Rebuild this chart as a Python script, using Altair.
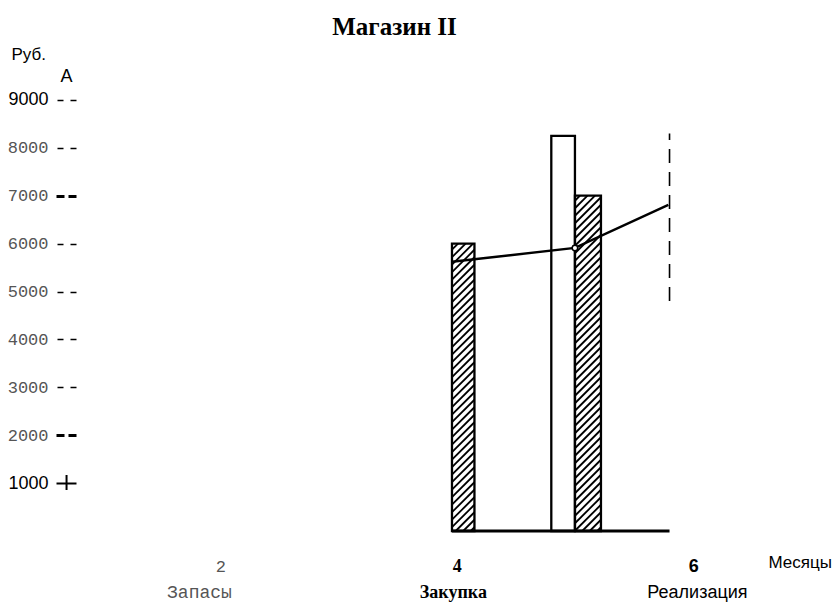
import altair as alt
import pandas as pd

# ---------------- data ----------------
title_text = "Магазин II"
y_unit = "Руб."
y_arrow = "A"
x_title = "Месяцы"

legend_labels = ["Запасы", "Закупка", "Реализация"]
legend_month = [1.824, 3.972, 6.036]

y_ticks = [1000, 2000, 3000, 4000, 5000, 6000, 7000, 8000, 9000]
y_tick_labels = ["1000", "2000", "3000", "4000", "5000", "6000", "7000", "8000", "9000"]
x_ticks = [2, 4, 6]
x_tick_labels = ["2", "4", "6"]

bar_start = [3.96, 4.80, 5.00]
bar_end = [4.15, 5.00, 5.22]
bar_value = [6000, 8250, 7000]
bar_hatched = [True, False, True]

line_month = [3.96, 5.00, 5.79]
line_value = [5620, 5910, 6810]
marker_index = [1]

edge_month = [5.80]
edge_low = [4800]
edge_high = [8300]

base_start = [3.96]
base_end = [5.80]

arrow_month = [0.70]
arrow_value = [9374]
cross_low = [856]
cross_high = [1169]

# ---------------- scales ----------------
X_DOMAIN = [0.78, 6.1]
Y_DOMAIN = [0, 10000]
W, H = 629, 479
PX_X = W / (X_DOMAIN[1] - X_DOMAIN[0])
PX_Y = H / (Y_DOMAIN[1] - Y_DOMAIN[0])

xs = alt.Scale(domain=X_DOMAIN, nice=False, zero=False)
ys = alt.Scale(domain=Y_DOMAIN, nice=False)


def label_expr(vals, labels):
    e = "''"
    for v, l in reversed(list(zip(vals, labels))):
        e = f"datum.value == {v} ? '{l}' : ({e})"
    return e


Y_SANS = "datum.value == 1000 || datum.value == 9000"
Y_BOLD = "datum.value == 7000 || datum.value == 2000"
Y_AXIS = alt.Axis(
    values=y_ticks,
    labelExpr=label_expr(y_ticks, y_tick_labels),
    title=y_unit,
    titleAngle=0,
    titleAlign="left",
    titleBaseline="alphabetic",
    titleX=-65,
    titleY=7,
    titleFont="Liberation Sans",
    titleFontSize=17,
    titleFontWeight="normal",
    titleColor="black",
    domain=False,
    grid=False,
    tickSize=20,
    tickColor="black",
    tickWidth={"condition": [{"test": Y_BOLD, "value": 3},
                             {"test": "datum.value == 1000", "value": 2}],
               "value": 1.6},
    tickDash={"condition": [{"test": "datum.value == 1000", "value": [20, 0]},
                            {"test": Y_BOLD, "value": [8, 4]}],
              "value": [6, 7]},
    labelPadding=8,
    labelFont={"condition": {"test": Y_SANS, "value": "Liberation Sans"}, "value": "Liberation Mono"},
    labelFontSize={"condition": {"test": Y_SANS, "value": 18}, "value": 17},
    labelColor={"condition": {"test": Y_SANS, "value": "black"}, "value": "#555555"},
)

X_AXIS = alt.Axis(
    values=x_ticks,
    labelExpr=label_expr(x_ticks, x_tick_labels),
    title=x_title,
    titleX=692,
    titleY=36,
    titleAlign="left",
    titleBaseline="alphabetic",
    titleFont="Liberation Sans",
    titleFontSize=17,
    titleFontWeight="normal",
    titleColor="black",
    domain=False,
    grid=False,
    ticks=False,
    tickSize=0,
    labelPadding=40,
    labelBaseline="alphabetic",
    labelFlush=False,
    labelOverlap=False,
    labelFont={"condition": [{"test": "datum.value == 2", "value": "Liberation Mono"},
                             {"test": "datum.value == 4", "value": "Liberation Serif"}],
               "value": "Liberation Sans"},
    labelFontWeight={"condition": {"test": "datum.value == 2", "value": "normal"}, "value": "bold"},
    labelFontSize={"condition": {"test": "datum.value == 2", "value": 17}, "value": 18},
    labelColor={"condition": {"test": "datum.value == 2", "value": "#555555"}, "value": "black"},
)


def X(f="x"):
    return alt.X(f"{f}:Q", scale=xs, axis=X_AXIS)


def Y(f="y"):
    return alt.Y(f"{f}:Q", scale=ys, axis=Y_AXIS)


# ---------------- derived tables ----------------
bars = pd.DataFrame({"x": bar_start, "x2": bar_end, "y": [0] * len(bar_value),
                     "y2": bar_value, "hatched": bar_hatched})

# diagonal hatch segments clipped to each hatched bar
SPACING = 7.5
segs = []
for x0, x1, top, h in zip(bar_start, bar_end, bar_value, bar_hatched):
    if not h:
        continue
    w = (x1 - x0) * PX_X
    hh = top * PX_Y
    c = -w + SPACING / 2
    while c < hh:
        sx, sy = 0.0, c
        if sy < 0:
            sx, sy = -c, 0.0
        ex, ey = w, c + w
        if ey > hh:
            ex, ey = hh - c, hh
        if ex > sx:
            segs.append({"x": x0 + sx / PX_X, "y": sy / PX_Y,
                         "x2": x0 + ex / PX_X, "y2": ey / PX_Y})
        c += SPACING
hatch = pd.DataFrame(segs)

line = pd.DataFrame({"x": line_month, "y": line_value})
marker = line.iloc[marker_index]
edge = pd.DataFrame({"x": edge_month, "y": edge_low, "y2": edge_high})
base = pd.DataFrame({"x": base_start, "x2": base_end, "y": [0]})
arrow = pd.DataFrame({"x": arrow_month, "y": arrow_value, "t": [y_arrow]})
cross = pd.DataFrame({"x": arrow_month, "y": cross_low, "y2": cross_high})
legend = pd.DataFrame({"x": legend_month, "t": legend_labels})

# ---------------- layers ----------------
fills = alt.Chart(bars).mark_rect(color="white").encode(
    x=X(), x2="x2:Q", y=Y(), y2="y2:Q")

hatch_l = alt.Chart(hatch).mark_rule(color="black", strokeWidth=1.8).encode(
    x=X(), x2="x2:Q", y=Y(), y2="y2:Q")

outlines = alt.Chart(bars).mark_rect(fillOpacity=0, stroke="black", strokeWidth=2.3).encode(
    x=X(), x2="x2:Q", y=Y(), y2="y2:Q")

base_l = alt.Chart(base).mark_rule(color="black", strokeWidth=3).encode(
    x=X(), x2="x2:Q", y=Y())

edge_l = alt.Chart(edge).mark_rule(color="black", strokeWidth=1.6, strokeDash=[14, 9]).encode(
    x=X(), y=Y(), y2="y2:Q")

line_l = alt.Chart(line).mark_line(color="black", strokeWidth=2.4).encode(x=X(), y=Y())

marker_l = alt.Chart(marker).mark_point(shape="circle", filled=True, fill="white", stroke="black",
                                        strokeWidth=1.5, size=30, opacity=1).encode(x=X(), y=Y())

cross_l = alt.Chart(cross).mark_rule(color="black", strokeWidth=2).encode(x=X(), y=Y(), y2="y2:Q")

arrow_l = alt.Chart(arrow).mark_text(font="Liberation Sans", fontSize=18, align="center",
                                     baseline="alphabetic", color="black").encode(
    x=X(), y=Y(), text="t:N")

leg_styles = [
    dict(font="Liberation Mono", fontSize=18, color="#555555", fontWeight="normal"),
    dict(font="Liberation Serif", fontSize=18, color="black", fontWeight="bold"),
    dict(font="Liberation Sans", fontSize=18, color="black", fontWeight="normal"),
]
leg_layers = []
for i, st in enumerate(leg_styles):
    leg_layers.append(
        alt.Chart(legend.iloc[[i]]).mark_text(align="center", baseline="alphabetic", **st).encode(
            x=X(), y=alt.value(546), text="t:N"))

chart = alt.layer(
    fills, hatch_l, outlines, base_l, edge_l, line_l, marker_l, cross_l, arrow_l, *leg_layers
).properties(
    width=W,
    height=H,
    title=alt.Title(title_text, font="Liberation Serif", fontSize=25, fontWeight="bold",
                    color="black", anchor="middle", dx=4, offset=5),
    autosize=alt.AutoSizeParams(type="none"),
    padding={"left": 68, "top": 44, "right": 127, "bottom": 73},
).configure_view(stroke=None)

chart.save("out.html", embed_options={"renderer": "svg", "actions": False})
